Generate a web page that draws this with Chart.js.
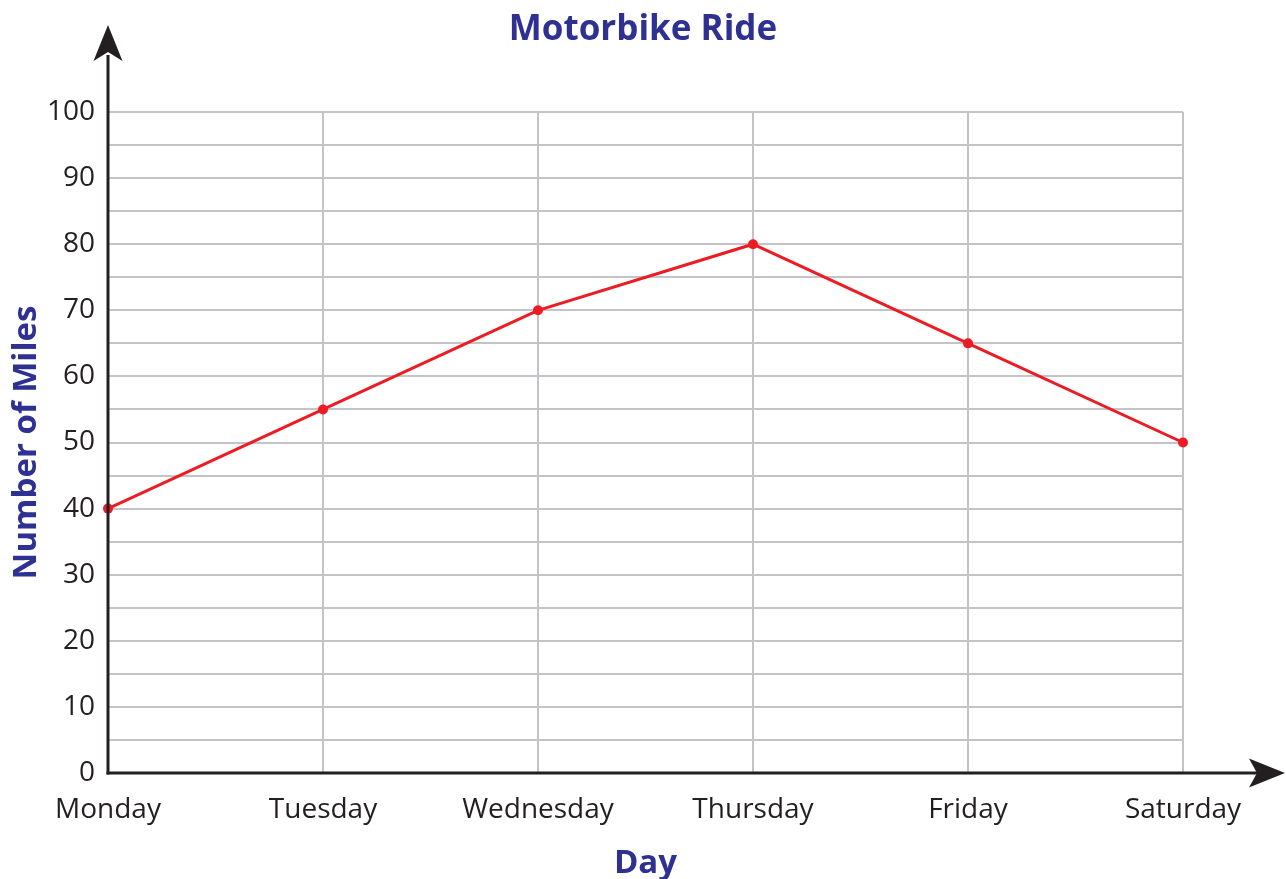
<!DOCTYPE html>
<html>
<head>
<meta charset="utf-8">
<script src="https://cdn.jsdelivr.net/npm/chart.js@4.4.1/dist/chart.umd.min.js"></script>
<style>
  html, body { margin: 0; padding: 0; background: #fff; }
  #wrap { width: 1286px; height: 879px; position: relative; }
</style>
</head>
<body>
<div id="wrap"><canvas id="chart"></canvas></div>
<script>
const days = ['Monday', 'Tuesday', 'Wednesday', 'Thursday', 'Friday', 'Saturday'];
const miles = [40, 55, 70, 80, 65, 50];
const yMin = 0;
const yMax = 100;
const yStep = 5;      // grid every 5
const yLabelEvery = 10;

const navy = '#2e3192';
const ink = '#231f20';
const gridColor = '#c4c4c8';

// axes with arrow heads, drawn over the grid
const arrowAxes = {
    id: 'arrowAxes',
    afterDraw(chart) {
        const c = chart.ctx;
        const x = chart.scales.x;
        const y = chart.scales.y;
        const x0 = x.left;
        const y0 = y.getPixelForValue(0);
        c.save();
        c.strokeStyle = ink;
        c.fillStyle = ink;
        c.lineWidth = 3;
        c.lineCap = 'butt';
        // y axis
        c.beginPath();
        c.moveTo(x0, y0 + 1.5);
        c.lineTo(x0, 55);
        c.stroke();
        c.beginPath();
        c.moveTo(x0, 25);
        c.lineTo(x0 + 14.5, 61);
        c.lineTo(x0, 52);
        c.lineTo(x0 - 14.5, 61);
        c.closePath();
        c.fill();
        // x axis
        c.beginPath();
        c.moveTo(x0 - 1.5, y0);
        c.lineTo(1260, y0);
        c.stroke();
        c.beginPath();
        c.moveTo(1285, y0);
        c.lineTo(1249, y0 - 14.5);
        c.lineTo(1257, y0);
        c.lineTo(1249, y0 + 14.5);
        c.closePath();
        c.fill();
        c.restore();
    }
};

new Chart(document.getElementById('chart'), {
    type: 'line',
    data: {
        labels: days,
        datasets: [{
            label: 'Miles',
            data: miles,
            borderColor: '#ed1c24',
            backgroundColor: '#ed1c24',
            borderWidth: 3,
            pointRadius: 5,
            pointBorderWidth: 0,
            tension: 0,
            clip: false
        }]
    },
    options: {
        responsive: true,
        maintainAspectRatio: false,
        animation: false,
        layout: { padding: 0 },
        plugins: {
            legend: { display: false },
            tooltip: { enabled: false },
            title: {
                display: true,
                text: 'Motorbike Ride',
                color: navy,
                font: { family: 'Open Sans', size: 35, weight: 'bold' },
                padding: { top: 9, bottom: 61 }
            }
        },
        scales: {
            x: {
                offset: false,
                border: { display: false },
                grid: { color: gridColor, lineWidth: 2, drawTicks: false },
                ticks: {
                    color: ink,
                    padding: 20,
                    maxRotation: 0,
                    font: { family: 'Open Sans', size: 28 }
                },
                title: {
                    display: true,
                    text: 'Day',
                    color: navy,
                    font: { family: 'Open Sans', size: 33, weight: 'bold' },
                    padding: { top: 0, bottom: -4 }
                },
                afterFit(scale) { scale.height = 106; }
            },
            y: {
                min: yMin,
                max: yMax,
                border: { display: false },
                grid: { color: gridColor, lineWidth: 2, drawTicks: false },
                ticks: {
                    stepSize: yStep,
                    color: ink,
                    padding: 13,
                    autoSkip: false,
                    font: { family: 'Open Sans', size: 28 },
                    callback: v => (v % yLabelEvery === 0 ? v : '')
                },
                title: {
                    display: true,
                    text: 'Number of Miles',
                    color: navy,
                    font: { family: 'Open Sans', size: 33, weight: 'bold' },
                    padding: { top: 7, bottom: 0 }
                },
                afterFit(scale) { scale.width = 108; }
            },
            // empty right-hand scale, only reserves the margin for the arrow
            yRight: {
                position: 'right',
                min: yMin,
                max: yMax,
                border: { display: false },
                grid: { display: false },
                ticks: { display: false },
                afterFit(scale) { scale.width = 103; }
            }
        }
    },
    plugins: [arrowAxes]
});
</script>
</body>
</html>
